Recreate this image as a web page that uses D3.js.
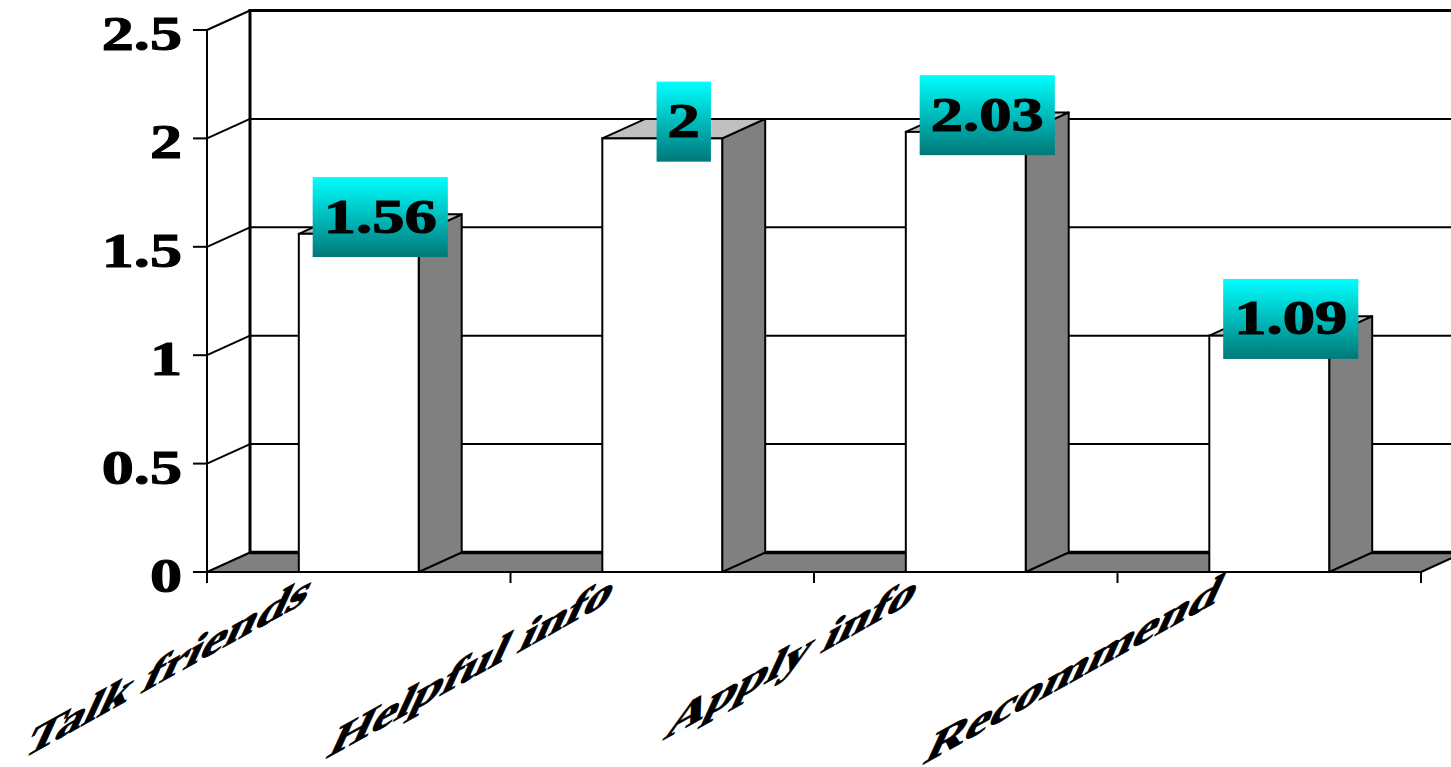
<!DOCTYPE html>
<html>
<head>
<meta charset="utf-8">
<script src="https://cdn.jsdelivr.net/npm/d3@7"></script>
<style>
  html, body { margin: 0; padding: 0; background: #ffffff; overflow: hidden; }
  svg { display: block; }
  text { font-family: "Liberation Serif", "Times New Roman", serif; font-weight: bold; }
</style>
</head>
<body>
<svg id="chart" width="1451" height="767"></svg>
<script>
const categories = ["Talk friends", "Helpful info", "Apply info", "Recommend"];
const values = [1.56, 2, 2.03, 1.09];
const valueLabels = ["1.56", "2", "2.03", "1.09"];
const yTicks = [0, 0.5, 1, 1.5, 2, 2.5];
const yTickLabels = ["0", "0.5", "1", "1.5", "2", "2.5"];

const svg = d3.select("#chart");
const DX = 43, DY = -19.5;
const FS = 49;

const x = d3.scaleBand().domain(categories).range([207, 1421]).paddingInner(0).paddingOuter(0);
const y = d3.scaleLinear().domain([0, 2.5]).range([572, 30]);
const bw = x.bandwidth();
const barW = bw * 0.395;

const defs = svg.append("defs");
const grad = defs.append("linearGradient").attr("id", "lblGrad")
  .attr("x1", 0).attr("y1", 0).attr("x2", 0).attr("y2", 1);
grad.append("stop").attr("offset", "0%").attr("stop-color", "#00ffff");
grad.append("stop").attr("offset", "100%").attr("stop-color", "#007878");

const x0 = x.range()[0], x1 = x.range()[1];
const y0 = y(0);

// floor
svg.append("polygon")
  .attr("points", [[x0, y0], [x1, y0], [x1 + DX, y0 + DY], [x0 + DX, y0 + DY]].map(p => p.join(",")).join(" "))
  .attr("fill", "#808080").attr("stroke", "none");

// back wall gridlines
svg.append("g").selectAll("line").data(yTicks).join("line")
  .attr("x1", x0 + DX).attr("x2", x1 + DX)
  .attr("y1", d => y(d) + DY).attr("y2", d => y(d) + DY)
  .attr("stroke", "#000")
  .attr("stroke-width", d => (d === 0 ? 3.5 : (d === 2.5 ? 3 : 2)));

// back wall left edge
svg.append("line")
  .attr("x1", x0 + DX).attr("x2", x0 + DX)
  .attr("y1", y(0) + DY).attr("y2", y(2.5) + DY - 1.5)
  .attr("stroke", "#000").attr("stroke-width", 3);

// side wall diagonals
svg.append("g").selectAll("line").data(yTicks).join("line")
  .attr("x1", x0).attr("y1", d => y(d))
  .attr("x2", x0 + DX).attr("y2", d => y(d) + DY)
  .attr("stroke", "#000").attr("stroke-width", 2);

// floor right edge
svg.append("line")
  .attr("x1", x1).attr("y1", y0).attr("x2", x1 + DX).attr("y2", y0 + DY)
  .attr("stroke", "#000").attr("stroke-width", 2);

// bars
const bars = svg.append("g").selectAll("g").data(categories).join("g");
bars.each(function (c, i) {
  const g = d3.select(this);
  const bx0 = x(c) + (bw - barW) / 2;
  const bx1 = bx0 + barW;
  const yt = y(values[i]);
  const pts = a => a.map(p => p.join(",")).join(" ");
  g.append("polygon")
    .attr("points", pts([[bx1, y0], [bx1 + DX, y0 + DY], [bx1 + DX, yt + DY], [bx1, yt]]))
    .attr("fill", "#808080").attr("stroke", "#000").attr("stroke-width", 2).attr("stroke-linejoin", "round");
  g.append("polygon")
    .attr("points", pts([[bx0, yt], [bx0 + DX, yt + DY], [bx1 + DX, yt + DY], [bx1, yt]]))
    .attr("fill", "#c0c0c0").attr("stroke", "#000").attr("stroke-width", 2).attr("stroke-linejoin", "round");
  g.append("rect")
    .attr("x", bx0).attr("y", yt).attr("width", barW).attr("height", y0 - yt)
    .attr("fill", "#ffffff").attr("stroke", "#000").attr("stroke-width", 2);
});

// front y axis
svg.append("line")
  .attr("x1", x0).attr("x2", x0).attr("y1", y(2.5)).attr("y2", y0 + 11)
  .attr("stroke", "#000").attr("stroke-width", 2);
svg.append("g").selectAll("line").data(yTicks).join("line")
  .attr("x1", x0 - 14).attr("x2", x0)
  .attr("y1", d => y(d)).attr("y2", d => y(d))
  .attr("stroke", "#000").attr("stroke-width", 2);
svg.append("g").selectAll("text").data(yTicks).join("text")
  .attr("transform", d => `translate(182,${y(d)}) scale(1.31,1)`)
  .attr("text-anchor", "end").attr("dy", "0.41em")
  .attr("font-size", FS).attr("fill", "#000")
  .attr("stroke", "#000").attr("stroke-width", 1.1)
  .text((d, i) => yTickLabels[i]);

// front x axis
svg.append("line")
  .attr("x1", x0).attr("x2", x1).attr("y1", y0).attr("y2", y0)
  .attr("stroke", "#000").attr("stroke-width", 2);
const bounds = categories.map(c => x(c)).concat([x1]);
svg.append("g").selectAll("line").data(bounds).join("line")
  .attr("x1", d => d).attr("x2", d => d).attr("y1", y0).attr("y2", y0 + 11)
  .attr("stroke", "#000").attr("stroke-width", 2);

// category labels (sheared rotated text)
svg.append("g").selectAll("text").data(categories).join("text")
  .attr("transform", c => `translate(${x(c) + bw / 2 - 55},603) matrix(1.12,-0.62,-0.45,0.98,0,0)`)
  .attr("text-anchor", "end").attr("font-size", FS).attr("fill", "#000")
  .attr("stroke", "#000").attr("stroke-width", 1.1)
  .text(c => c);

// value labels
const lbl = svg.append("g").selectAll("g").data(categories).join("g");
lbl.each(function (c, i) {
  const g = d3.select(this);
  const bx0 = x(c) + (bw - barW) / 2;
  const cx = bx0 + barW / 2 + DX / 2;
  const cy = y(values[i]) + DY / 2 - 7;
  const rect = g.append("rect");
  const t = g.append("text")
    .attr("transform", `translate(${cx},${cy + 15.5}) scale(1.32,1)`)
    .attr("text-anchor", "middle").attr("font-size", FS).attr("fill", "#000")
    .attr("stroke", "#000").attr("stroke-width", 1.1)
    .text(valueLabels[i]);
  const L = t.node().getComputedTextLength() * 1.32;
  const rw = L + 22, rh = 80;
  rect.attr("x", cx - rw / 2).attr("y", cy - rh / 2).attr("width", rw).attr("height", rh)
    .attr("fill", "url(#lblGrad)");
});
</script>
</body>
</html>
